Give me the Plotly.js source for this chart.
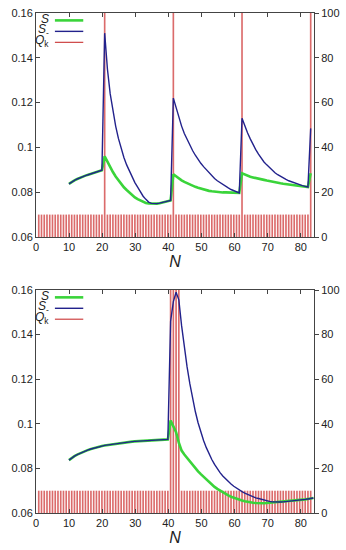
<!DOCTYPE html>
<html>
<head>
<meta charset="utf-8">
<script src="https://cdn.plot.ly/plotly-3.0.1.min.js"></script>
<style>html,body{margin:0;padding:0;background:#fff;}#chart{width:346px;height:550px;}</style>
</head>
<body>
<div id="chart"></div>
<script>
// ---- data ----
// sample spacing of N and first sample of the S curves
const N_STEP = 0.83;
const N_FIRST_Q = 0.83;
const N_FIRST_S = 9.96;

// Top panel
const topSbar = [
  0.0837,0.0846,0.0853,0.0859,0.0865,0.0870,0.0874,0.0878,0.0882,0.0886,0.0890,0.0894,0.0898,
  0.1510,0.1350,0.1240,0.1160,0.1095,0.1040,0.0995,0.0955,0.0922,0.0893,0.0866,0.0843,0.0823,0.0800,0.0782,0.0768,0.0756,0.0750,0.0748,0.0749,0.0751,0.0754,0.0757,0.0760,0.0763,
  0.1220,0.1180,0.1130,0.1095,0.1062,0.1034,0.1008,0.0986,0.0965,0.0945,0.0929,0.0914,0.0900,0.0887,0.0872,0.0861,0.0851,0.0842,0.0834,0.0826,0.0819,0.0812,0.0806,0.0801,0.0797,
  0.1130,0.1095,0.1065,0.1038,0.1012,0.0990,0.0970,0.0951,0.0935,0.0922,0.0909,0.0897,0.0887,0.0878,0.0870,0.0863,0.0857,0.0851,0.0846,0.0841,0.0837,0.0833,0.0829,0.0826,0.0823,
  0.1085
];
const topS = [
  0.0837,0.0846,0.0853,0.0859,0.0865,0.0870,0.0874,0.0878,0.0882,0.0886,0.0890,0.0894,0.0898,
  0.0960,0.0935,0.0912,0.0890,0.0870,0.0852,0.0837,0.0822,0.0810,0.0798,0.0786,0.0777,0.0769,0.0763,0.0757,0.0752,0.0750,0.0749,0.0748,0.0749,0.0751,0.0754,0.0757,0.0760,0.0763,
  0.0880,0.0870,0.0860,0.0853,0.0846,0.0840,0.0834,0.0829,0.0824,0.0820,0.0816,0.0812,0.0809,0.0806,0.0804,0.0802,0.0801,0.0800,0.0799,0.0799,0.0798,0.0798,0.0797,0.0797,0.0797,
  0.0884,0.0878,0.0873,0.0869,0.0866,0.0864,0.0861,0.0858,0.0855,0.0852,0.0849,0.0846,0.0844,0.0842,0.0840,0.0838,0.0836,0.0834,0.0832,0.0831,0.0830,0.0829,0.0827,0.0825,0.0823,
  0.0885
];
const topQ = [
  10,10,10,10,10,10,10,10,10,10,10,10,10,10,10,10,10,10,10,10,10,10,10,10,100,
  10,10,10,10,10,10,10,10,10,10,10,10,10,10,10,10,10,10,10,10,10,10,10,10,100,
  10,10,10,10,10,10,10,10,10,10,10,10,10,10,10,10,10,10,10,10,10,10,10,10,100,
  10,10,10,10,10,10,10,10,10,10,10,10,10,10,10,10,10,10,10,10,10,10,10,10,100
];

// Bottom panel
const botSbar = [
  0.0837,0.0847,0.0855,0.0862,0.0868,0.0874,0.0879,0.0883,0.0887,0.0891,0.0894,0.0897,0.0900,
  0.0903,0.0905,0.0907,0.0909,0.0911,0.0913,0.0915,0.0916,0.0918,0.0919,0.0920,0.0921,0.0922,
  0.0923,0.0924,0.0925,0.0926,0.0927,0.0927,0.0928,0.0929,0.0929,0.0930,0.0930,
  0.1460,0.1548,0.1590,0.1556,0.1440,0.1340,0.1255,0.1180,0.1113,0.1055,0.1005,0.0962,0.0925,
  0.0893,0.0865,0.0840,0.0818,0.0798,0.0781,0.0766,0.0753,0.0741,0.0730,0.0720,0.0711,0.0703,
  0.0696,0.0689,0.0683,0.0678,0.0673,0.0668,0.0665,0.0661,0.0657,0.0654,0.0652,0.0650,0.0649,
  0.0649,0.0649,0.0650,0.0651,0.0652,0.0653,0.0655,0.0656,0.0658,0.0660,0.0661,0.0663,0.0665,0.0667
];
const botS = [
  0.0837,0.0847,0.0855,0.0862,0.0868,0.0874,0.0879,0.0883,0.0887,0.0891,0.0894,0.0897,0.0900,
  0.0903,0.0905,0.0907,0.0909,0.0911,0.0913,0.0915,0.0916,0.0918,0.0919,0.0920,0.0921,0.0922,
  0.0923,0.0924,0.0925,0.0926,0.0927,0.0927,0.0928,0.0929,0.0929,0.0930,0.0930,
  0.1015,0.0990,0.0962,0.0915,0.0880,0.0862,0.0846,0.0830,0.0815,0.0800,0.0787,0.0774,0.0762,
  0.0749,0.0738,0.0727,0.0717,0.0708,0.0700,0.0692,0.0685,0.0679,0.0673,0.0668,0.0664,0.0660,
  0.0656,0.0653,0.0650,0.0648,0.0646,0.0645,0.0644,0.0644,0.0644,0.0645,0.0646,0.0648,0.0649,
  0.0649,0.0649,0.0650,0.0651,0.0652,0.0653,0.0655,0.0656,0.0658,0.0660,0.0661,0.0663,0.0665,0.0667
];
const botQ = [
  10,10,10,10,10,10,10,10,10,10,10,10,10,10,10,10,10,10,10,10,10,10,10,10,10,
  10,10,10,10,10,10,10,10,10,10,10,10,10,10,10,10,10,10,10,10,10,10,10,100,100,
  100,100,10,10,10,10,10,10,10,10,10,10,10,10,10,10,10,10,10,10,10,10,10,10,10,
  10,10,10,10,10,10,10,10,10,10,10,10,10,10,10,10,10,10,10,10,10,10,10,10,10
];

const xTicks = [0,10,20,30,40,50,60,70,80];
const leftTicks = [0.06,0.08,0.1,0.12,0.14,0.16];
const rightTicks = [0,20,40,60,80,100];
const legendNames = ['<i>S</i>', '<i>S</i><sub>-</sub>', '<i>Q</i><sub>k</sub>'];

// ---- styles ----
const GREEN = '#3ad43a', BLUE = '#22228c', RED = 'rgba(205,50,50,0.72)';
const AX = '#444', TXT = '#222';
const FONT = 'Liberation Sans, Arial, sans-serif';

function panel(xa, yBars, yLines, Q, S, Sbar) {
  return [
    {type:'bar', x0:N_FIRST_Q, dx:N_STEP, y:Q, xaxis:xa, yaxis:yBars,
     width:0.5, marker:{color:RED, line:{width:0}}, showlegend:false, hoverinfo:'skip'},
    {type:'scatter', mode:'lines', x0:N_FIRST_S, dx:N_STEP, y:S, xaxis:xa, yaxis:yLines,
     line:{color:GREEN, width:2.6}, showlegend:false},
    {type:'scatter', mode:'lines', x0:N_FIRST_S, dx:N_STEP, y:Sbar, xaxis:xa, yaxis:yLines,
     line:{color:BLUE, width:1.4}, showlegend:false}
  ];
}

const data = [].concat(
  panel('x', 'y', 'y2', topQ, topS, topSbar),
  panel('x2', 'y3', 'y4', botQ, botS, botSbar)
);

function xAxis() {
  return {
    domain:[0,1], range:[0,84], tickvals:xTicks,
    ticks:'inside', ticklen:4, tickcolor:AX, showline:true, linecolor:AX, linewidth:1,
    mirror:'ticks', showgrid:false, zeroline:false,
    tickfont:{family:FONT, size:11, color:TXT},
    title:{text:'<i>N</i>', font:{family:FONT, size:16, color:TXT}, standoff:1}
  };
}
function rightAxis(dom, anchor) {
  return {
    domain:dom, anchor:anchor, side:'right', range:[0,100], tickvals:rightTicks,
    ticks:'outside', ticklen:4, tickcolor:AX, showline:true, linecolor:AX, linewidth:1,
    showgrid:false, zeroline:false, tickfont:{family:FONT, size:11, color:TXT}
  };
}
function leftAxis(over, anchor) {
  return {
    overlaying:over, anchor:anchor, side:'left', range:[0.06,0.16], tickvals:leftTicks,
    ticktext:['0.06','0.08','0.1','0.12','0.14','0.16'],
    ticks:'inside', ticklen:4, tickcolor:AX, showline:true, linecolor:AX, linewidth:1,
    showgrid:false, zeroline:false, tickfont:{family:FONT, size:11, color:TXT}
  };
}

const legColors = [GREEN, BLUE, 'rgba(200,45,45,0.9)'];
const legWidths = [2.6, 1.4, 1.2];
const legY = [0.967, 0.918, 0.869];
const annotations = [], shapes = [];
[['x domain','y domain'],['x2 domain','y3 domain']].forEach(([xr,yr]) => {
  for (let i = 0; i < 3; i++) {
    annotations.push({xref:xr, yref:yr, x:0.052, y:legY[i] + 0.004, xanchor:'right', yanchor:'middle',
      text:legendNames[i], showarrow:false, borderpad:0, font:{family:FONT, size:12, color:TXT}});
    shapes.push({type:'line', xref:xr, yref:yr, x0:0.068, x1:0.17, y0:legY[i], y1:legY[i],
      line:{color:legColors[i], width:legWidths[i]}});
  }
});

const layout = {
  width:346, height:550,
  margin:{l:36, r:32, t:13, b:37},
  paper_bgcolor:'#fff', plot_bgcolor:'#fff',
  showlegend:false, bargap:0.1,
  xaxis: Object.assign(xAxis(), {anchor:'y'}),
  yaxis: rightAxis([0.552,1], 'x'),
  yaxis2: leftAxis('y', 'x'),
  xaxis2: Object.assign(xAxis(), {anchor:'y3'}),
  yaxis3: rightAxis([0,0.446], 'x2'),
  yaxis4: leftAxis('y3', 'x2'),
  annotations: annotations,
  shapes: shapes
};

Plotly.newPlot('chart', data, layout, {displayModeBar:false, staticPlot:true});
</script>
</body>
</html>
